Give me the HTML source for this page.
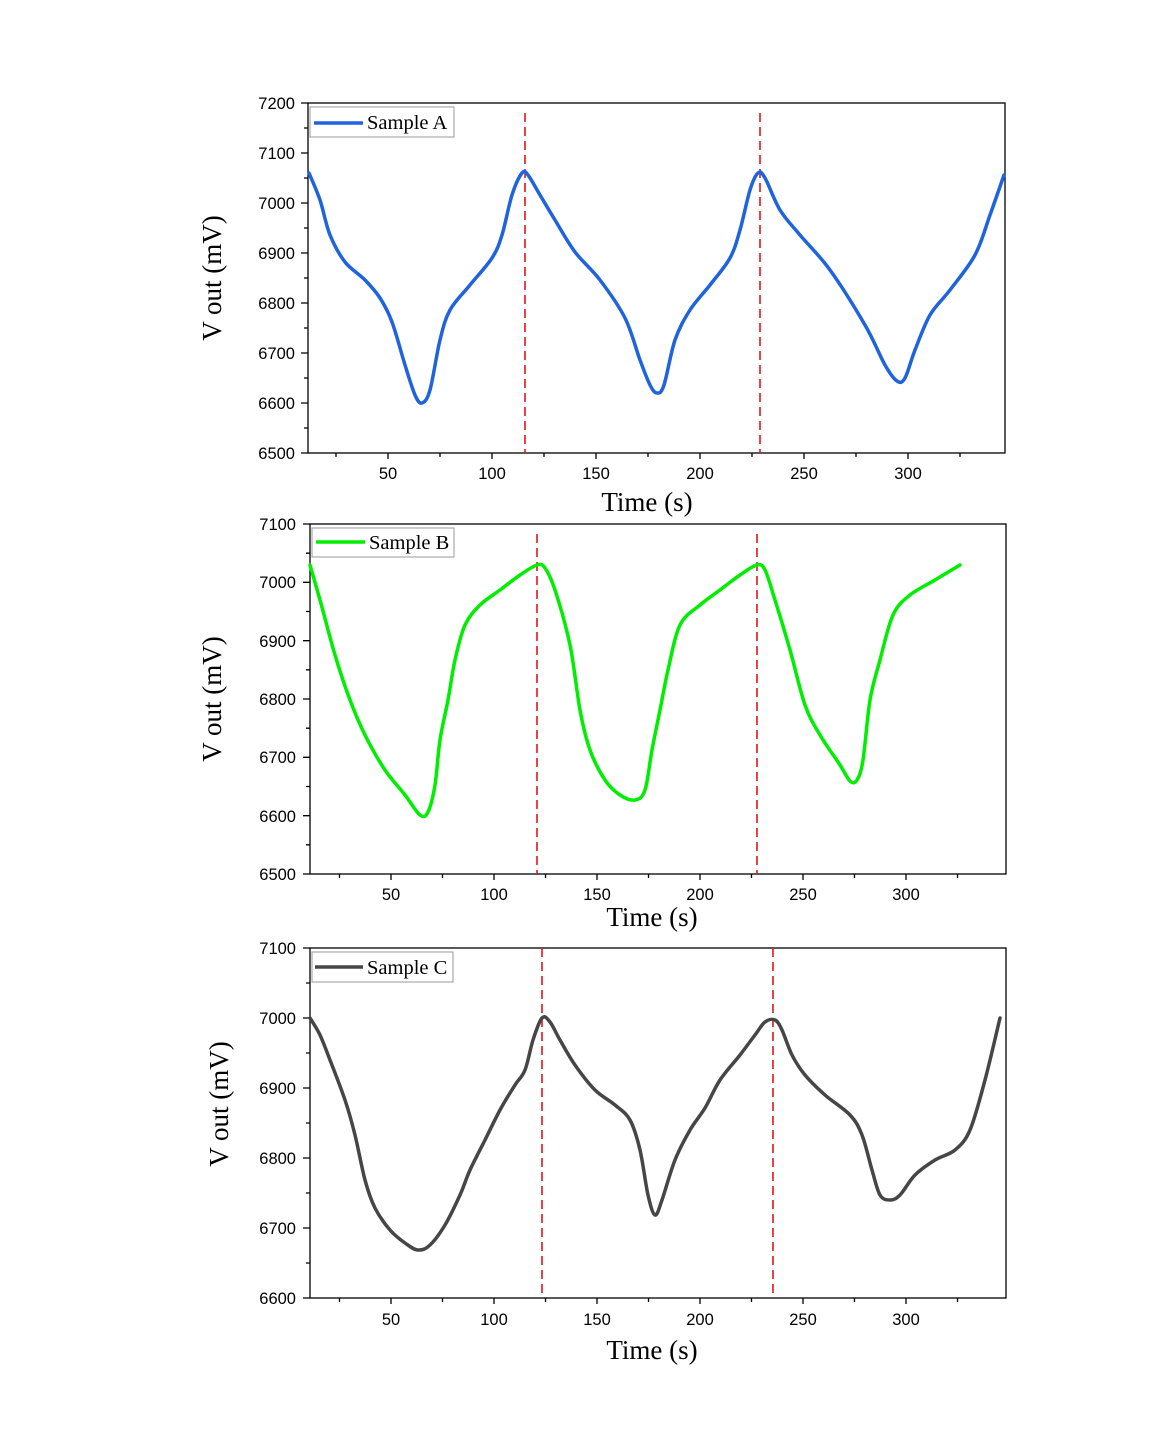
<!DOCTYPE html>
<html><head><meta charset="utf-8"><style>
html,body{margin:0;padding:0;background:#fff}
svg{display:block}
.t{font-family:"Liberation Sans",Arial,sans-serif;font-size:16.5px;fill:#000}
.ti{font-family:"Liberation Serif","Times New Roman",serif;font-size:27px;fill:#000}
.lg{font-family:"Liberation Serif","Times New Roman",serif;font-size:20.5px;fill:#000}
</style></head><body>
<svg width="1176" height="1438" viewBox="0 0 1176 1438" xmlns="http://www.w3.org/2000/svg">
<g fill="none" stroke="#000" stroke-width="1.3">
<rect x="308" y="103" width="697" height="350"/>
<path d="M308 103h-7M308 153h-7M308 203h-7M308 253h-7M308 303h-7M308 353h-7M308 403h-7M308 453h-7M308 128h-4M308 178h-4M308 228h-4M308 278h-4M308 328h-4M308 378h-4M308 428h-4"/>
<path d="M388 453v6M492 453v6M596 453v6M700 453v6M804 453v6M908 453v6M336 453v4M440 453v4M544 453v4M648 453v4M752 453v4M856 453v4M960 453v4"/>
<rect x="310" y="524" width="696" height="350"/>
<path d="M310 524h-7M310 582.3h-7M310 640.7h-7M310 699h-7M310 757.3h-7M310 815.7h-7M310 874h-7M310 553.2h-4M310 611.5h-4M310 669.8h-4M310 728.2h-4M310 786.5h-4M310 844.8h-4"/>
<path d="M391 874v6M494 874v6M597 874v6M700 874v6M803 874v6M906 874v6M339.5 874v4M442.5 874v4M545.5 874v4M648.5 874v4M751.5 874v4M854.5 874v4M957.5 874v4"/>
<rect x="310" y="948" width="696" height="350"/>
<path d="M310 948h-7M310 1018h-7M310 1088h-7M310 1158h-7M310 1228h-7M310 1298h-7M310 983h-4M310 1053h-4M310 1123h-4M310 1193h-4M310 1263h-4"/>
<path d="M391 1298v6M494 1298v6M597 1298v6M700 1298v6M803 1298v6M906 1298v6M339.5 1298v4M442.5 1298v4M545.5 1298v4M648.5 1298v4M751.5 1298v4M854.5 1298v4M957.5 1298v4"/>
</g>
<g stroke="#e8141a" stroke-width="1.6" stroke-dasharray="9,5" fill="none">
<path d="M525 113V453M760 113V453M537 534V874M757 534V874M542 948V1298M773 948V1298"/>
</g>
<g id="curves" fill="none" stroke-width="3.5" stroke-linejoin="round" stroke-linecap="round">
<polyline stroke="#1f63dd" points="309,173 320,200 330,235 345,262 365,280 380,298 392,322 405,365 415,395 422,403 430,390 440,340 450,310 470,285 492,258 502,235 512,195 522,173 528,175 540,195 555,220 575,252 600,280 625,318 640,360 650,385 657,393 664,385 675,340 690,310 710,285 730,258 740,230 750,190 758,173 765,178 780,210 800,235 830,270 865,325 885,365 897,381 905,378 915,350 930,315 950,290 975,255 990,215 1004,175"/>
<polyline stroke="#00ee00" points="310,565 320,600 335,655 350,700 365,735 385,770 405,795 420,815 428,812 435,785 440,740 448,700 455,660 465,625 480,605 500,590 520,575 537,565 545,568 555,590 570,645 580,710 590,750 605,780 620,795 635,800 645,790 652,750 660,710 668,670 680,625 700,605 720,590 740,575 757,565 765,570 775,600 790,650 805,705 820,735 840,765 850,781 857,780 863,760 870,700 880,660 893,615 910,595 935,580 960,565"/>
<polyline stroke="#464646" points="310,1018 320,1035 330,1060 345,1100 355,1135 365,1180 375,1208 390,1230 405,1243 418,1250 430,1245 445,1225 460,1195 470,1170 485,1140 500,1110 515,1085 525,1070 533,1040 542,1018 550,1022 560,1040 575,1065 595,1090 615,1105 630,1120 640,1150 648,1195 655,1215 662,1200 675,1160 690,1130 705,1108 720,1080 740,1055 755,1035 765,1022 775,1020 782,1030 792,1055 805,1075 825,1095 850,1115 862,1135 872,1170 880,1195 890,1200 900,1195 915,1175 935,1160 955,1150 970,1130 985,1080 1000,1018"/>
</g>
<rect x="310" y="107" width="144" height="30" fill="#fff" stroke="#999" stroke-width="1"/>
<line x1="314" y1="123" x2="363" y2="123" stroke="#1f63dd" stroke-width="3.5"/>
<text class="lg" x="367" y="129">Sample A</text>
<rect x="312" y="528" width="142" height="29" fill="#fff" stroke="#999" stroke-width="1"/>
<line x1="316" y1="542" x2="365" y2="542" stroke="#00ee00" stroke-width="3.5"/>
<text class="lg" x="369" y="549">Sample B</text>
<rect x="312" y="952" width="141" height="30" fill="#fff" stroke="#999" stroke-width="1"/>
<line x1="315" y1="967" x2="363" y2="967" stroke="#464646" stroke-width="3.5"/>
<text class="lg" x="367" y="974">Sample C</text>
<g class="t" text-anchor="end">
<text x="295" y="109">7200</text><text x="295" y="159">7100</text><text x="295" y="209">7000</text><text x="295" y="259">6900</text><text x="295" y="309">6800</text><text x="295" y="359">6700</text><text x="295" y="409">6600</text><text x="295" y="459">6500</text>
<text x="296" y="530">7100</text><text x="296" y="588">7000</text><text x="296" y="647">6900</text><text x="296" y="705">6800</text><text x="296" y="763">6700</text><text x="296" y="822">6600</text><text x="296" y="880">6500</text>
<text x="296" y="954">7100</text><text x="296" y="1024">7000</text><text x="296" y="1094">6900</text><text x="296" y="1164">6800</text><text x="296" y="1234">6700</text><text x="296" y="1304">6600</text>
</g>
<g class="t" text-anchor="middle">
<text x="388" y="479">50</text><text x="492" y="479">100</text><text x="596" y="479">150</text><text x="700" y="479">200</text><text x="804" y="479">250</text><text x="908" y="479">300</text>
<text x="391" y="900">50</text><text x="494" y="900">100</text><text x="597" y="900">150</text><text x="700" y="900">200</text><text x="803" y="900">250</text><text x="906" y="900">300</text>
<text x="391" y="1325">50</text><text x="494" y="1325">100</text><text x="597" y="1325">150</text><text x="700" y="1325">200</text><text x="803" y="1325">250</text><text x="906" y="1325">300</text>
</g>
<g class="ti" text-anchor="middle">
<text x="647" y="511">Time (s)</text>
<text x="652" y="926">Time (s)</text>
<text x="652" y="1359">Time (s)</text>
<text transform="translate(221,278) rotate(-90)">V out (mV)</text>
<text transform="translate(221,699) rotate(-90)">V out (mV)</text>
<text transform="translate(228,1104) rotate(-90)">V out (mV)</text>
</g>
</svg>
<script>
(function(){
var ns="http://www.w3.org/2000/svg";
var pls=document.querySelectorAll("#curves polyline");
for(var i=0;i<pls.length;i++){
var pl=pls[i];
var p=pl.getAttribute("points").trim().split(/\s+/).map(function(s){return s.split(",").map(Number);});
var d="M"+p[0][0]+" "+p[0][1];
for(var k=0;k<p.length-1;k++){
var p0=p[k>0?k-1:0],p1=p[k],p2=p[k+1],p3=p[k+2<p.length?k+2:k+1];
var c1x=p1[0]+(p2[0]-p0[0])/6,c1y=p1[1]+(p2[1]-p0[1])/6;
var c2x=p2[0]-(p3[0]-p1[0])/6,c2y=p2[1]-(p3[1]-p1[1])/6;
d+="C"+c1x.toFixed(1)+" "+c1y.toFixed(1)+" "+c2x.toFixed(1)+" "+c2y.toFixed(1)+" "+p2[0]+" "+p2[1];
}
var path=document.createElementNS(ns,"path");
path.setAttribute("d",d);
path.setAttribute("stroke",pl.getAttribute("stroke"));
pl.parentNode.replaceChild(path,pl);
}
})();
</script>
</body></html>
